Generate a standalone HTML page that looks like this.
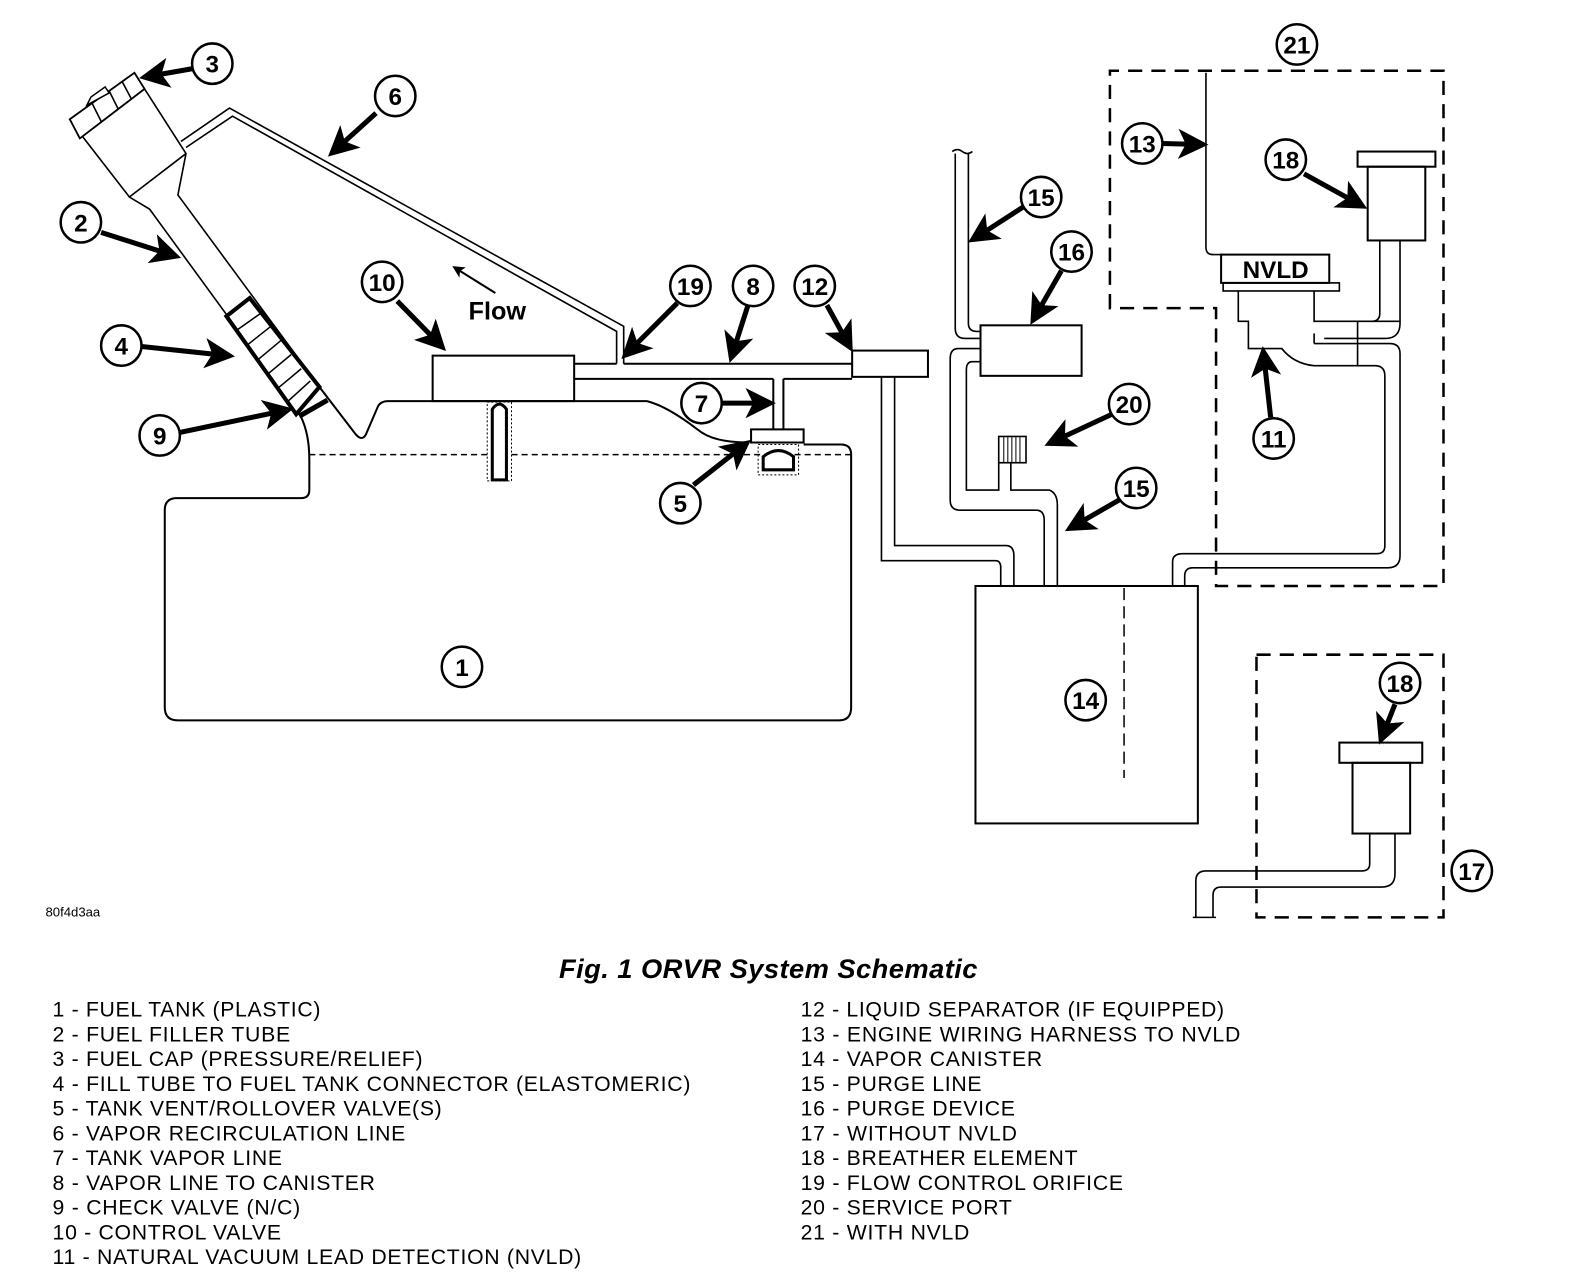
<!DOCTYPE html>
<html><head><meta charset="utf-8"><style>
html,body{margin:0;padding:0;background:#fff;}
svg{display:block;}
text{font-family:"Liberation Sans",sans-serif;fill:#000;}
.c{fill:#fff;stroke:#000;stroke-width:2.5;}
.n{font-weight:bold;font-size:24px;text-anchor:middle;}
.l{fill:none;stroke:#000;stroke-width:2;}
.t{fill:none;stroke:#000;stroke-width:1.6;}
.a{stroke:#000;stroke-width:5;fill:none;}
.d{fill:none;stroke:#000;stroke-width:2.5;stroke-dasharray:14 9;}
.lg{font-size:21px;}
</style></head><body>
<svg width="1584" height="1272" viewBox="0 0 1567 1259" preserveAspectRatio="none" xmlns="http://www.w3.org/2000/svg">
<defs><marker id="ah" markerWidth="6" markerHeight="6" refX="4.5" refY="3" orient="auto" markerUnits="strokeWidth"><path d="M0,0 L6,3 L0,6 L1.5,3 z" fill="#000"/></marker></defs>
<rect width="1567" height="1259" fill="#fff"/>

<!-- Tank -->
<path class="l" d="M298,413 Q306,430 306,455 L306,485 Q306,493 298,493 L175,493 Q163,493 163,505 L163,700 Q163,713 176,713 L830,713 Q842,713 842,700 L842,450 Q842,440 832,440 L795,440"/>
<line x1="306" y1="450" x2="842" y2="450" stroke="#000" stroke-width="1.5" stroke-dasharray="6 4"/>
<path class="l" d="M316,383 L352,430 Q358,437 362,430 L374,402 Q377,397 384,397 L640,397 Q660,402 690,425 Q705,438 740,438"/>
<!-- filler tube -->
<path class="t" d="M80,133 L128,195 L148,207 L296,410"/>
<path class="t" d="M143,88 L184,152 L176,193 L316,383"/>
<path class="t" d="M128,195 L184,152"/>
<!-- cap -->
<polygon points="69,118 79,137 143,88 133,72" fill="#fff" stroke="#000" stroke-width="1.8"/>
<polygon points="86,104 90,96 104,86 108,92" fill="#fff" stroke="#000" stroke-width="1.5"/>
<line x1="91" y1="102" x2="100" y2="120" class="t"/><line x1="108" y1="90" x2="117" y2="108" class="t"/><line x1="121" y1="81" x2="130" y2="98" class="t"/>
<!-- connector 4 hatch -->
<path d="M224,313 L247,295 L316,383 L293,410 Z" fill="#fff" stroke="#000" stroke-width="4"/>
<g stroke="#000" stroke-width="1.5"><line x1="234" y1="327" x2="258" y2="310"/><line x1="244" y1="342" x2="268" y2="323"/><line x1="254" y1="357" x2="278" y2="337"/><line x1="264" y1="371" x2="288" y2="351"/><line x1="274" y1="385" x2="298" y2="365"/><line x1="284" y1="398" x2="307" y2="377"/></g>
<line x1="296" y1="412" x2="324" y2="396" stroke="#000" stroke-width="5"/>
<!-- vapor line 6 -->
<path class="t" d="M179,140 L227,107 L617,323 L617,360"/>
<path class="t" d="M184,146 L230,115 L610,328 L610,360"/>
<!-- control valve 10 -->
<rect x="428" y="352" width="140" height="45" class="l" fill="#fff"/>
<line x1="568" y1="360" x2="610" y2="360" class="l"/>
<line x1="617" y1="360" x2="843" y2="360" class="l"/>
<line x1="568" y1="375" x2="765" y2="375" class="l"/>
<line x1="775" y1="375" x2="843" y2="375" class="l"/>
<line x1="765" y1="375" x2="765" y2="425" class="l"/><line x1="775" y1="375" x2="775" y2="425" class="l"/>
<!-- valve 5 -->
<rect x="743" y="425" width="52" height="13" class="l" fill="#fff"/>
<path d="M755,465 L755,452 Q770,440 785,452 L785,465 Z" fill="#fff" stroke="#000" stroke-width="3"/>
<rect x="750" y="440" width="40" height="30" fill="none" stroke="#000" stroke-width="1" stroke-dasharray="2 2"/>
<!-- pin -->
<path d="M487,475 L487,405 Q494,395 501,405 L501,475 Z" fill="#fff" stroke="#000" stroke-width="3"/>
<rect x="482" y="398" width="24" height="78" fill="none" stroke="#000" stroke-width="1" stroke-dasharray="2 2"/>
<text x="492" y="316" font-size="25" font-weight="bold" text-anchor="middle">Flow</text>
<line x1="490" y1="290" x2="450" y2="265" stroke="#000" stroke-width="2" marker-end="url(#ah)"/>

<!-- separator 12 -->
<rect x="843" y="347" width="75" height="26" class="l" fill="#fff"/>
<path class="t" d="M872,373 L872,555 L985,555 Q990,555 990,562 L990,580"/>
<path class="t" d="M885,373 L885,540 L995,540 Q1003,540 1003,550 L1003,580"/>
<!-- canister 14 -->
<rect x="965" y="580" width="220" height="235" class="l"/>
<line x1="1112" y1="582" x2="1112" y2="770" stroke="#000" stroke-width="1.5" stroke-dasharray="12 6"/>
<!-- purge lines -->
<path class="t" d="M945,152 L945,325 Q945,335 955,335 L970,335"/>
<path class="t" d="M958,152 L958,320 Q958,328 966,328 L970,328"/>
<path class="t" d="M942,150 q5,-4 10,0 q5,4 10,0"/>
<rect x="970" y="322" width="100" height="50" class="l" fill="#fff"/>
<path class="t" d="M970,345 L948,345 Q940,345 940,355 L940,495 Q940,505 950,505 L1025,505 Q1033,505 1033,515 L1033,580"/>
<path class="t" d="M970,358 L962,358 Q956,358 956,366 L956,485 L988,485 L988,458"/>
<path class="t" d="M1000,458 L1000,485 L1038,485 Q1046,488 1046,500 L1046,580"/>
<rect x="988" y="432" width="27" height="26" class="t" fill="#fff"/>
<g stroke="#000" stroke-width="1"><line x1="993" y1="432" x2="993" y2="458"/><line x1="997" y1="432" x2="997" y2="458"/><line x1="1001" y1="432" x2="1001" y2="458"/><line x1="1005" y1="432" x2="1005" y2="458"/><line x1="1009" y1="432" x2="1009" y2="458"/></g>
<!-- NVLD -->
<path class="d" d="M1098,305 L1098,70 L1428,70 L1428,580 L1203,580 L1203,305 Z"/>
<path class="t" d="M1193,72 L1193,245 Q1193,252 1200,252 L1210,252"/>
<rect x="1208" y="252" width="107" height="28" class="l" fill="#fff"/>
<text x="1262" y="275" font-size="24" font-weight="bold" text-anchor="middle">NVLD</text>
<rect x="1210" y="280" width="115" height="8" class="t" fill="#fff"/>
<path class="t" d="M1225,288 L1225,318 L1235,318 L1235,345 L1268,345 Q1280,360 1300,362 L1360,362 Q1370,362 1370,372 L1370,540 Q1370,548 1362,548 L1170,548 Q1160,548 1160,556 L1160,580"/>
<path class="t" d="M1300,288 L1300,318 L1385,318"/>
<path class="t" d="M1300,340 L1375,340 Q1385,340 1385,350 L1385,550 Q1385,562 1373,562 L1180,562 Q1172,562 1172,570 L1172,580"/>
<path class="t" d="M1300,330 L1300,340"/>
<line x1="1343" y1="318" x2="1343" y2="340" class="t"/><line x1="1343" y1="340" x2="1343" y2="362" class="t"/>
<path class="t" d="M1365,238 L1365,310 Q1365,318 1357,318"/>
<path class="t" d="M1385,238 L1385,320 Q1385,335 1370,335 L1310,335"/>
<rect x="1343" y="150" width="77" height="15" class="l" fill="#fff"/>
<rect x="1353" y="165" width="57" height="73" class="l" fill="#fff"/>
<!-- box 17 -->
<rect x="1243" y="648" width="185" height="260" class="d"/>
<rect x="1325" y="735" width="82" height="20" class="l" fill="#fff"/>
<rect x="1338" y="755" width="57" height="70" class="l" fill="#fff"/>
<path class="t" d="M1355,825 L1355,855 Q1355,862 1347,862 L1193,862 Q1183,862 1183,872 L1183,908"/>
<path class="t" d="M1380,825 L1380,865 Q1380,878 1367,878 L1208,878 Q1200,878 1200,886 L1200,908"/>
<line x1="1180" y1="908" x2="1203" y2="908" class="t"/>

<!-- arrows -->
<g class="a">
<line x1="190" y1="68" x2="145" y2="76" marker-end="url(#ah)"/>
<line x1="372" y1="112" x2="330" y2="150" marker-end="url(#ah)"/>
<line x1="100" y1="230" x2="172" y2="253" marker-end="url(#ah)"/>
<line x1="140" y1="343" x2="225" y2="352" marker-end="url(#ah)"/>
<line x1="178" y1="428" x2="283" y2="406" marker-end="url(#ah)"/>
<line x1="393" y1="298" x2="436" y2="342" marker-end="url(#ah)"/>
<line x1="670" y1="300" x2="620" y2="350" marker-end="url(#ah)"/>
<line x1="740" y1="302" x2="724" y2="352" marker-end="url(#ah)"/>
<line x1="818" y1="302" x2="840" y2="342" marker-end="url(#ah)"/>
<line x1="714" y1="399" x2="760" y2="399" marker-end="url(#ah)"/>
<line x1="686" y1="480" x2="737" y2="440" marker-end="url(#ah)"/>
<line x1="1012" y1="205" x2="964" y2="236" marker-end="url(#ah)"/>
<line x1="1050" y1="268" x2="1023" y2="315" marker-end="url(#ah)"/>
<line x1="1150" y1="142" x2="1188" y2="143" marker-end="url(#ah)"/>
<line x1="1290" y1="172" x2="1346" y2="203" marker-end="url(#ah)"/>
<line x1="1100" y1="410" x2="1040" y2="438" marker-end="url(#ah)"/>
<line x1="1107" y1="495" x2="1060" y2="522" marker-end="url(#ah)"/>
<line x1="1257" y1="413" x2="1250" y2="350" marker-end="url(#ah)"/>
<line x1="1380" y1="697" x2="1367" y2="730" marker-end="url(#ah)"/>
</g>
<!-- labels -->
<g>
<circle class="c" cx="210" cy="63" r="20"/><text class="n" x="210" y="72">3</text>
<circle class="c" cx="391" cy="95" r="20"/><text class="n" x="391" y="104">6</text>
<circle class="c" cx="80" cy="220" r="20"/><text class="n" x="80" y="229">2</text>
<circle class="c" cx="120" cy="342" r="20"/><text class="n" x="120" y="351">4</text>
<circle class="c" cx="158" cy="431" r="20"/><text class="n" x="158" y="440">9</text>
<circle class="c" cx="378" cy="279" r="20"/><text class="n" x="378" y="288">10</text>
<circle class="c" cx="683" cy="283" r="20"/><text class="n" x="683" y="292">19</text>
<circle class="c" cx="745" cy="283" r="20"/><text class="n" x="745" y="292">8</text>
<circle class="c" cx="806" cy="283" r="20"/><text class="n" x="806" y="292">12</text>
<circle class="c" cx="694" cy="399" r="20"/><text class="n" x="694" y="408">7</text>
<circle class="c" cx="673" cy="498" r="20"/><text class="n" x="673" y="507">5</text>
<circle class="c" cx="457" cy="660" r="20"/><text class="n" x="457" y="669">1</text>
<circle class="c" cx="1030" cy="195" r="20"/><text class="n" x="1030" y="204">15</text>
<circle class="c" cx="1060" cy="249" r="20"/><text class="n" x="1060" y="258">16</text>
<circle class="c" cx="1130" cy="142" r="20"/><text class="n" x="1130" y="151">13</text>
<circle class="c" cx="1272" cy="158" r="20"/><text class="n" x="1272" y="167">18</text>
<circle class="c" cx="1117" cy="400" r="20"/><text class="n" x="1117" y="409">20</text>
<circle class="c" cx="1124" cy="483" r="20"/><text class="n" x="1124" y="492">15</text>
<circle class="c" cx="1260" cy="434" r="20"/><text class="n" x="1260" y="443">11</text>
<circle class="c" cx="1283" cy="44" r="20"/><text class="n" x="1283" y="53">21</text>
<circle class="c" cx="1074" cy="693" r="20"/><text class="n" x="1074" y="702">14</text>
<circle class="c" cx="1385" cy="676" r="20"/><text class="n" x="1385" y="685">18</text>
<circle class="c" cx="1456" cy="862" r="20"/><text class="n" x="1456" y="871">17</text>
</g>
<text x="45" y="907" font-size="13">80f4d3aa</text>
<text x="553" y="968" font-size="27" font-weight="bold" font-style="italic" textLength="414">Fig. 1 ORVR System Schematic</text>
<g class="lg">
<text x="52" y="1006" textLength="265">1 - FUEL TANK (PLASTIC)</text>
<text x="52" y="1031" textLength="235">2 - FUEL FILLER TUBE</text>
<text x="52" y="1055" textLength="366">3 - FUEL CAP (PRESSURE/RELIEF)</text>
<text x="52" y="1080" textLength="631">4 - FILL TUBE TO FUEL TANK CONNECTOR (ELASTOMERIC)</text>
<text x="52" y="1104" textLength="385">5 - TANK VENT/ROLLOVER VALVE(S)</text>
<text x="52" y="1129" textLength="349">6 - VAPOR RECIRCULATION LINE</text>
<text x="52" y="1153" textLength="227">7 - TANK VAPOR LINE</text>
<text x="52" y="1178" textLength="319">8 - VAPOR LINE TO CANISTER</text>
<text x="52" y="1202" textLength="245">9 - CHECK VALVE (N/C)</text>
<text x="52" y="1227" textLength="226">10 - CONTROL VALVE</text>
<text x="52" y="1251" textLength="523">11 - NATURAL VACUUM LEAD DETECTION (NVLD)</text>
<text x="792" y="1006" textLength="419">12 - LIQUID SEPARATOR (IF EQUIPPED)</text>
<text x="792" y="1031" textLength="435">13 - ENGINE WIRING HARNESS TO NVLD</text>
<text x="792" y="1055" textLength="239">14 - VAPOR CANISTER</text>
<text x="792" y="1080" textLength="179">15 - PURGE LINE</text>
<text x="792" y="1104" textLength="212">16 - PURGE DEVICE</text>
<text x="792" y="1129" textLength="214">17 - WITHOUT NVLD</text>
<text x="792" y="1153" textLength="274">18 - BREATHER ELEMENT</text>
<text x="792" y="1178" textLength="319">19 - FLOW CONTROL ORIFICE</text>
<text x="792" y="1202" textLength="209">20 - SERVICE PORT</text>
<text x="792" y="1227" textLength="167">21 - WITH NVLD</text>
</g>
</svg>
</body></html>
